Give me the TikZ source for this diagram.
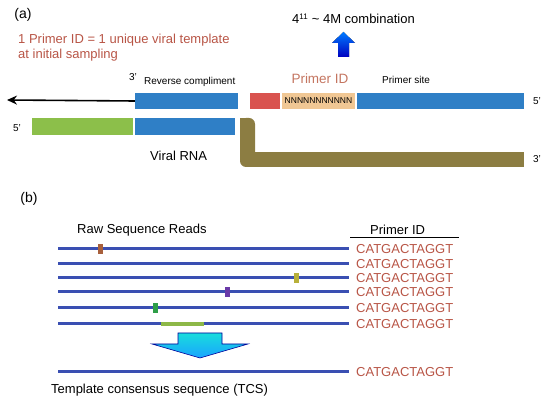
\documentclass[tikz,border=0pt]{standalone}
\usepackage{fontspec}
\setmainfont{Liberation Sans}
\usetikzlibrary{arrows.meta}
\definecolor{barblue}{HTML}{2F7FC6}
\definecolor{seqblue}{HTML}{3A4FB2}
\definecolor{bargreen}{HTML}{8CBF4A}
\definecolor{barred}{HTML}{D9534F}
\definecolor{bartan}{HTML}{F0C794}
\definecolor{barolive}{HTML}{8C7D42}
\definecolor{redtext}{HTML}{B85546}
\definecolor{idtext}{HTML}{C47560}
\definecolor{mkbrown}{HTML}{A8603C}
\definecolor{mkpurple}{HTML}{6A3AA8}
\definecolor{mkgreen}{HTML}{2E9E48}
\definecolor{mkyellow}{HTML}{B8B03A}
\definecolor{mkbar}{HTML}{8DB848}
\begin{document}
\begin{tikzpicture}[x=1pt,y=-1pt,
  bar/.style={draw=none,inner sep=0pt,minimum height=16pt},
  seq/.style={draw=seqblue,line width=3pt},
  lab/.style={inner sep=0pt,font=\fontsize{13}{15}\selectfont},
  small/.style={inner sep=0pt,font=\fontsize{10}{12}\selectfont},
  pid/.style={inner sep=0pt,anchor=west,text=redtext,font=\fontsize{13}{15}\selectfont},
  snp/.style={inner sep=0pt,minimum width=5pt,minimum height=10pt}]
\useasboundingbox (0,0) rectangle (550,406);
% ---------- (a)
\node[lab,font=\fontsize{14}{16}\selectfont] (pa) at (23,15) {(a)};
\node[lab,anchor=west,text=redtext,align=left] (note) at (18,47.5)
  {1 Primer ID = 1 unique viral template\\at initial sampling};
\node[lab,anchor=west] (comb) at (292,19) {4\textsuperscript{\fontsize{8}{9}\selectfont 11} \textasciitilde{} 4M combination};
\fill[top color=blue!40!cyan!80!blue, bottom color=blue!75!black]
  (332,43) -- (343.5,32) -- (355,43) -- (349,43) -- (349,57) -- (338,57) -- (338,43) -- cycle;
\node[lab,text=idtext,font=\fontsize{13.5}{15}\selectfont] (pidlab) at (320,79) {Primer ID};
\node[small,anchor=west] (site) at (382,80) {Primer site};
\node[small,anchor=west] (rc) at (144,82) {Reverse compliment};
\node[small] (t3a) at (133,77) {3'};
% top strand
\node[bar,fill=barblue,minimum width=103pt] (rcbar) at (186.5,101) {};
\node[bar,fill=barred,minimum width=30pt] (redbar) at (265,101) {};
\node[bar,fill=bartan,minimum width=73pt,font=\fontsize{8.5}{10}\selectfont] (nbar) at (318.5,101) {NNNNNNNNNNN};
\node[bar,fill=barblue,minimum width=167pt] (psbar) at (440.5,101) {};
\node[small] (f5a) at (537,101) {5'};
\coordinate (arrend) at (7,100);
\draw[line width=1.6pt,-{Stealth[length=10pt,width=9pt]}] (rcbar.west) -- (arrend);
% bottom strand
\node[small] (f5b) at (17,128) {5'};
\node[bar,fill=bargreen,minimum width=101pt,minimum height=17pt] (gbar) at (82.5,126.5) {};
\node[bar,fill=barblue,minimum width=100pt,minimum height=17pt] (bbar) at (185,126.5) {};
\fill[barolive,rounded corners=6pt] (240,118) rectangle (255,167);
\fill[barolive] (240,118) rectangle (249,140);
\fill[barolive] (249,152) rectangle (524,167);
\node[small] (t3b) at (537,159) {3'};
\node[lab,anchor=west] (vrna) at (150,156) {Viral RNA};
% ---------- (b)
\node[lab,font=\fontsize{14}{16}\selectfont] (pb) at (29,199) {(b)};
\node[lab,anchor=west] (raw) at (77,230) {Raw Sequence Reads};
\node[lab,anchor=west] (pidb) at (370,230) {Primer ID};
\coordinate (ul1) at (350,238);
\coordinate (ul2) at (459,238);
\draw[line width=1pt] (ul1) -- (ul2);
\foreach \i/\yy in {1/249,2/264,3/278,4/292,5/308,6/324,7/372}{
  \coordinate (s\i) at (58,\yy);
  \coordinate (e\i) at (349,\yy);
  \draw[seq] (s\i) -- (e\i);
  \node[pid] (id\i) at (356,\yy) {CATGACTAGGT};
}
\draw[mkbar,line width=4pt] (161,324) -- (204,324);
\node[snp,fill=mkbrown] (m1) at (100,249) {};
\node[snp,fill=mkyellow] (m3) at (296,278) {};
\node[snp,fill=mkpurple] (m4) at (227,292) {};
\node[snp,fill=mkgreen] (m5) at (155,308) {};
\shade[top color=cyan!70!teal!90, bottom color=cyan!60!blue!90, draw=blue!60!black, line width=0.6pt]
  (178,333) -- (222,333) -- (222,344) -- (248,344) -- (200,358) -- (152,344) -- (178,344) -- cycle;
\node[lab,anchor=west] (tcs) at (51,390) {Template consensus sequence (TCS)};
\end{tikzpicture}
\end{document}
